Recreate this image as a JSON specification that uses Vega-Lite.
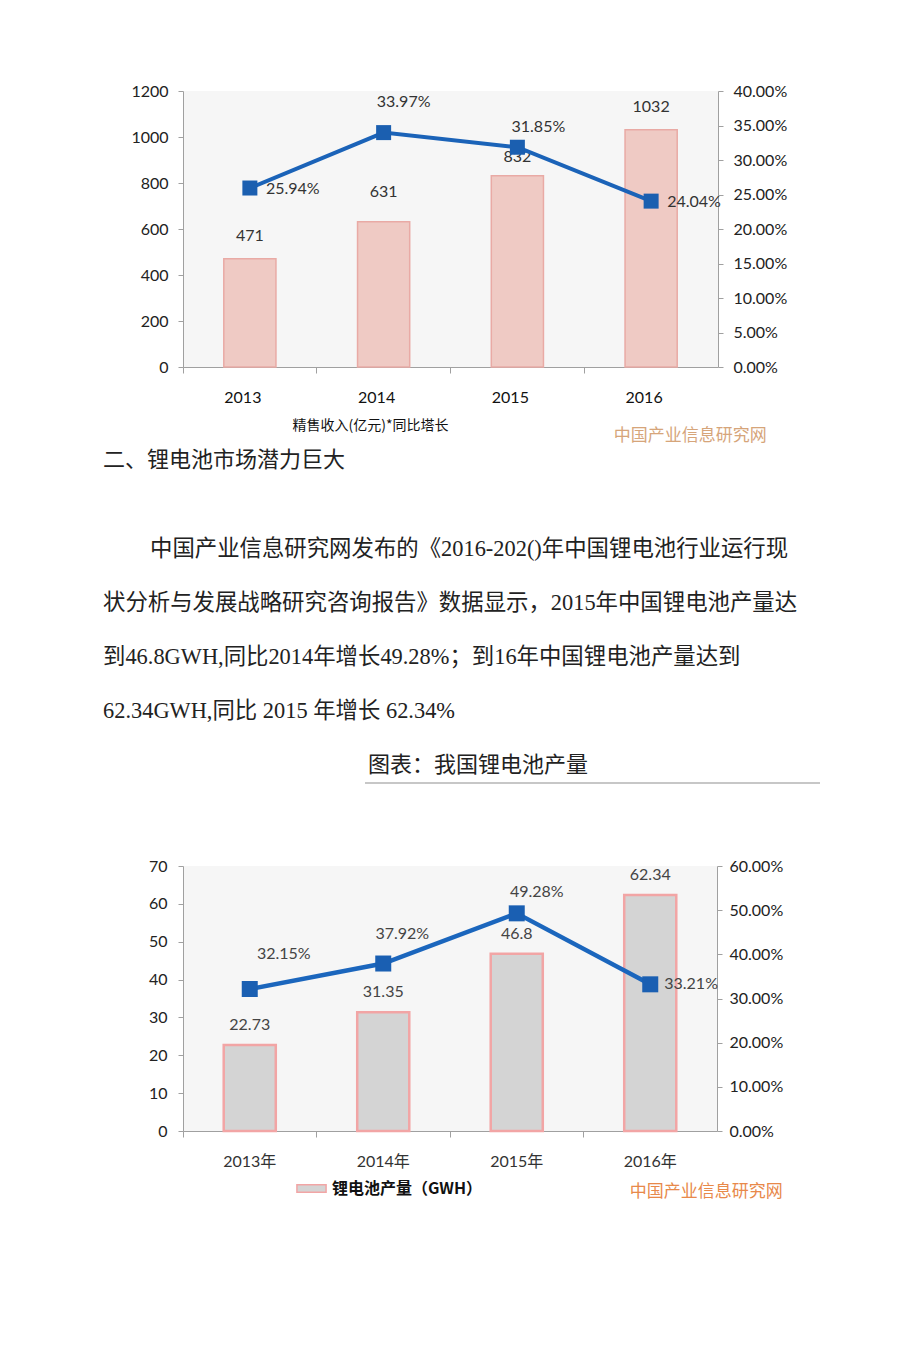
{
  "$schema": "https://vega.github.io/schema/vega-lite/v6.json",
  "background": "white",
  "padding": {"left": 103, "top": 83, "right": 20, "bottom": 20},
  "autosize": {"type": "pad"},
  "spacing": 5,
  "resolve": {"legend": {"color": "independent"}, "scale": {"color": "independent"}},
  "config": {
    "view": {"stroke": null},
    "axis": {"grid": false, "domainColor": "#a0a0a0", "tickColor": "#a0a0a0", "labelFont": "Lato, Noto Sans CJK SC", "labelFontSize": 16, "labelColor": "#222", "tickSize": 5}
  },
  "vconcat": [
    {
      "width": 535,
      "height": 276,
      "view": {"fill": "#f6f6f6"},
      "title": {"text": "中国产业信息研究网", "orient": "bottom", "anchor": "end", "frame": "bounds", "color": "#d6a57a", "font": "Noto Sans CJK SC", "fontSize": 17, "fontWeight": "normal", "offset": -4, "dx": -20},
      "data": {"values": [
        {"year": "2013", "revenue": 471, "growth": 0.2594},
        {"year": "2014", "revenue": 631, "growth": 0.3397},
        {"year": "2015", "revenue": 832, "growth": 0.3185},
        {"year": "2016", "revenue": 1032, "growth": 0.2404}
      ]},
      "encoding": {
        "x": {"field": "year", "type": "ordinal", "scale": {"paddingInner": 0, "paddingOuter": 0},
          "axis": {"title": "精售收入(亿元)*同比塔长", "labelAngle": 0, "bandPosition": 0, "labelOffset": -7, "labelAlign": "center", "labelPadding": 16, "tickSize": 6, "titleFont": "Noto Sans CJK SC", "titleFontSize": 14, "titleFontWeight": "normal", "titleColor": "#111", "titleX": 187, "titleY": 58, "titleBaseline": "middle", "titleAlign": "center", "labelColor": "#111"}}
      },
      "layer": [
        {
          "encoding": {"y": {"field": "revenue", "type": "quantitative", "scale": {"domain": [0, 1200]},
            "axis": {"orient": "left", "title": null, "format": "d", "values": [0, 200, 400, 600, 800, 1000, 1200], "labelPadding": 10}}},
          "layer": [
            {"mark": {"type": "bar", "width": {"band": 0.39}, "fill": "#efcac4", "stroke": "#e9aaa5", "strokeWidth": 1.5}},
            {"transform": [{"filter": {"field": "year", "oneOf": ["2013", "2016"]}}],
             "mark": {"type": "text", "baseline": "middle", "dy": -23, "font": "Lato", "fontSize": 16, "color": "#333"}, "encoding": {"text": {"field": "revenue", "type": "nominal"}}},
            {"transform": [{"filter": {"field": "year", "equal": "2014"}}],
             "mark": {"type": "text", "baseline": "middle", "dy": -30, "font": "Lato", "fontSize": 16, "color": "#333"}, "encoding": {"text": {"field": "revenue", "type": "nominal"}}},
            {"transform": [{"filter": {"field": "year", "equal": "2015"}}],
             "mark": {"type": "text", "baseline": "middle", "dy": -19, "font": "Lato", "fontSize": 16, "color": "#333"}, "encoding": {"text": {"field": "revenue", "type": "nominal"}}}
          ]
        },
        {
          "encoding": {"y": {"field": "growth", "type": "quantitative", "scale": {"domain": [0, 0.4]},
            "axis": {"orient": "right", "title": null, "format": ".2%", "values": [0, 0.05, 0.1, 0.15, 0.2, 0.25, 0.3, 0.35, 0.4], "labelPadding": 10}}},
          "layer": [
            {"mark": {"type": "line", "color": "#1b63b8", "strokeWidth": 4}},
            {"mark": {"type": "point", "shape": "square", "filled": true, "size": 225, "color": "#1b5fb0", "opacity": 1}},
            {"transform": [{"filter": {"field": "year", "oneOf": ["2013", "2016"]}}],
             "mark": {"type": "text", "align": "left", "baseline": "middle", "dx": 16, "dy": 1, "font": "Lato", "fontSize": 16, "color": "#333"},
             "encoding": {"text": {"field": "growth", "type": "quantitative", "format": ".2%"}}},
            {"transform": [{"filter": {"field": "year", "equal": "2014"}}],
             "mark": {"type": "text", "align": "center", "baseline": "middle", "dx": 20, "dy": -31, "font": "Lato", "fontSize": 16, "color": "#333"},
             "encoding": {"text": {"field": "growth", "type": "quantitative", "format": ".2%"}}},
            {"transform": [{"filter": {"field": "year", "equal": "2015"}}],
             "mark": {"type": "text", "align": "center", "baseline": "middle", "dx": 21, "dy": -20, "font": "Lato", "fontSize": 16, "color": "#333"},
             "encoding": {"text": {"field": "growth", "type": "quantitative", "format": ".2%"}}}
          ]
        }
      ],
      "resolve": {"scale": {"y": "independent"}}
    },
    {
      "width": 535,
      "height": 304,
      "title": {"text": "二、锂电池市场潜力巨大", "anchor": "start", "frame": "group", "dx": -80, "offset": 66, "font": "Liberation Serif, Noto Sans CJK SC", "fontSize": 22, "fontWeight": "normal", "color": "#222"},
      "data": {"values": [
        {"line": 1, "text": "中国产业信息研究网发布的《2016-202()年中国锂电池行业运行现"},
        {"line": 2, "text": "状分析与发展战略研究咨询报告》数据显示，2015年中国锂电池产量达"},
        {"line": 3, "text": "到46.8GWH,同比2014年增长49.28%；到16年中国锂电池产量达到"},
        {"line": 4, "text": "62.34GWH,同比  2015 年增长  62.34%"},
        {"line": 5, "text": "图表：我国锂电池产量"}
      ]},
      "encoding": {"y": {"field": "line", "type": "quantitative", "scale": {"domain": [1, 6.6296], "reverse": true, "nice": false, "zero": false}, "axis": null}},
      "layer": [
        {"transform": [{"filter": "datum.line == 1"}],
         "mark": {"type": "text", "align": "left", "baseline": "middle", "x": -33, "font": "Liberation Serif, Noto Sans CJK SC", "fontSize": 22.4, "color": "#222"},
         "encoding": {"text": {"field": "text", "type": "nominal"}}},
        {"transform": [{"filter": "datum.line >= 2 && datum.line <= 4"}],
         "mark": {"type": "text", "align": "left", "baseline": "middle", "x": -80, "font": "Liberation Serif, Noto Sans CJK SC", "fontSize": 22.4, "color": "#222"},
         "encoding": {"text": {"field": "text", "type": "nominal"}}},
        {"transform": [{"filter": "datum.line == 5"}],
         "mark": {"type": "text", "align": "left", "baseline": "middle", "x": 185, "font": "Liberation Serif, Noto Sans CJK SC", "fontSize": 22, "color": "#222"},
         "encoding": {"text": {"field": "text", "type": "nominal"}}},
        {"transform": [{"filter": "datum.line == 5"}],
         "mark": {"type": "rule", "x": 182, "x2": 637, "yOffset": 18, "color": "#b5b5b5", "strokeWidth": 1.5},
         "encoding": {}}
      ]
    },
    {
      "width": 534,
      "height": 265,
      "view": {"fill": "#f6f6f6"},
      "title": {"text": "中国产业信息研究网", "orient": "bottom", "anchor": "end", "frame": "bounds", "color": "#e8894a", "font": "Noto Sans CJK SC", "fontSize": 17, "fontWeight": "normal", "offset": -13, "dx": 0},
      "data": {"values": [
        {"year": "2013年", "output": 22.73, "growth": 0.3215},
        {"year": "2014年", "output": 31.35, "growth": 0.3792},
        {"year": "2015年", "output": 46.8, "growth": 0.4928},
        {"year": "2016年", "output": 62.34, "growth": 0.3321}
      ]},
      "encoding": {
        "x": {"field": "year", "type": "ordinal", "scale": {"paddingInner": 0, "paddingOuter": 0},
          "axis": {"title": null, "labelAngle": 0, "bandPosition": 0, "labelOffset": 0, "labelAlign": "center", "labelPadding": 16, "tickSize": 6, "labelColor": "#333"}}
      },
      "layer": [
        {
          "encoding": {"y": {"field": "output", "type": "quantitative", "scale": {"domain": [0, 70]},
            "axis": {"orient": "left", "title": null, "values": [0, 10, 20, 30, 40, 50, 60, 70], "labelPadding": 11}}},
          "layer": [
            {"mark": {"type": "bar", "width": {"band": 0.39}, "stroke": "#f2a5a5", "strokeWidth": 2.5},
             "encoding": {"color": {"datum": "锂电池产量（GWH）", "type": "nominal", "scale": {"range": ["#d4d4d4"]},
               "legend": {"title": null, "orient": "none", "legendX": 113, "legendY": 307, "symbolType": "M-1,-0.25H1V0.25H-1Z", "symbolSize": 850, "symbolStrokeColor": "#f2a5a5", "symbolStrokeWidth": 1.5, "labelFont": "Noto Sans CJK SC", "labelFontSize": 16, "labelFontWeight": "bold", "labelColor": "#111", "labelOffset": 5}}}},
            {"mark": {"type": "text", "baseline": "middle", "dy": -20, "font": "Lato", "fontSize": 16, "color": "#444"}, "encoding": {"text": {"field": "output", "type": "nominal"}}}
          ]
        },
        {
          "encoding": {"y": {"field": "growth", "type": "quantitative", "scale": {"domain": [0, 0.6]},
            "axis": {"orient": "right", "title": null, "format": ".2%", "values": [0, 0.1, 0.2, 0.3, 0.4, 0.5, 0.6], "labelPadding": 7}}},
          "layer": [
            {"mark": {"type": "line", "color": "#1b66bd", "strokeWidth": 4.5}},
            {"mark": {"type": "point", "shape": "square", "filled": true, "size": 256, "color": "#1a5fb2", "opacity": 1}},
            {"transform": [{"filter": {"field": "year", "equal": "2013年"}}],
             "mark": {"type": "text", "align": "center", "baseline": "middle", "dx": 34, "dy": -35, "font": "Lato", "fontSize": 16, "color": "#444"},
             "encoding": {"text": {"field": "growth", "type": "quantitative", "format": ".2%"}}},
            {"transform": [{"filter": {"field": "year", "equal": "2014年"}}],
             "mark": {"type": "text", "align": "center", "baseline": "middle", "dx": 19, "dy": -30, "font": "Lato", "fontSize": 16, "color": "#444"},
             "encoding": {"text": {"field": "growth", "type": "quantitative", "format": ".2%"}}},
            {"transform": [{"filter": {"field": "year", "equal": "2015年"}}],
             "mark": {"type": "text", "align": "center", "baseline": "middle", "dx": 20, "dy": -21, "font": "Lato", "fontSize": 16, "color": "#444"},
             "encoding": {"text": {"field": "growth", "type": "quantitative", "format": ".2%"}}},
            {"transform": [{"filter": {"field": "year", "equal": "2016年"}}],
             "mark": {"type": "text", "align": "left", "baseline": "middle", "dx": 14, "dy": 0, "font": "Lato", "fontSize": 16, "color": "#444"},
             "encoding": {"text": {"field": "growth", "type": "quantitative", "format": ".2%"}}}
          ]
        }
      ],
      "resolve": {"scale": {"y": "independent"}}
    }
  ]
}
